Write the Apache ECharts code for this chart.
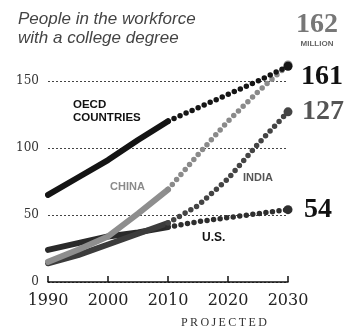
<!DOCTYPE html>
<html>
<head>
<meta charset="utf-8">
<script src="https://cdn.jsdelivr.net/npm/echarts@6/dist/echarts.min.js"></script>
<style>
  html, body { margin: 0; padding: 0; background: #fff; }
  #chart { width: 352px; height: 331px; }
</style>
</head>
<body>
<div id="chart"></div>
<script>
// Millions of workers holding a college degree, actual then projected
const histYears = [1990, 1995, 2000, 2005, 2010];
const projYears = [2010, 2015, 2020, 2025, 2030];

const oecdHist = [65, 78, 91, 106, 120];
const oecdProj = [120, 130, 140, 150, 161];

const chinaHist = [15, 24, 34, 51, 69];
const chinaProj = [69, 95, 120, 142, 162];

const indiaHist = [14, 20, 28, 36, 44];
const indiaProj = [44, 57, 77, 103, 127];

const usHist = [24, 29, 34, 37, 41];
const usProj = [41, 45, 48, 51, 54];

const yTicks = [0, 50, 100, 150];
const xTicks = [1990, 2000, 2010, 2020, 2030];

const pair = (xs, ys) => xs.map((x, i) => [x, ys[i]]);
const lastIdx = projYears.length - 1;

const bigNum = { fontFamily: 'Liberation Serif', fontWeight: 'bold', fontSize: 28 };

function histSeries(ys, color, z) {
  return {
    type: 'line', data: pair(histYears, ys), clip: false, z: z,
    symbol: 'none', silent: true,
    lineStyle: { color: color, width: 6, cap: 'round' }
  };
}

function projSeries(ys, color, z, endLabel) {
  return {
    type: 'line', data: pair(projYears, ys), clip: false, z: z,
    symbol: 'circle', showSymbol: true, showAllSymbol: true,
    symbolSize: (v, p) => (p.dataIndex === lastIdx ? 9 : 0),
    itemStyle: { color: color },
    lineStyle: { color: color, width: 5.5, type: [0, 6.6], cap: 'round' },
    endLabel: endLabel
  };
}

const chart = echarts.init(document.getElementById('chart'), null, { renderer: 'canvas' });

chart.setOption({
  animation: false,
  backgroundColor: '#fff',
  grid: { left: 48, right: 64, top: 81, bottom: 49 },
  xAxis: {
    type: 'value', min: 1990, max: 2030, interval: 10,
    axisLine: { show: true, lineStyle: { color: '#111', width: 1.5 } },
    axisTick: { show: true, inside: true, length: 6, lineStyle: { color: '#111', width: 1.5 } },
    splitLine: { show: false },
    axisLabel: {
      margin: 11, color: '#222', fontFamily: 'DejaVu Serif', fontSize: 16,
      formatter: v => (xTicks.includes(v) ? String(v) : '')
    }
  },
  yAxis: {
    type: 'value', min: 0, max: 150, interval: 50,
    axisLine: { show: false }, axisTick: { show: false },
    splitLine: { show: true, lineStyle: { color: '#444', width: 1, type: [2, 2] } },
    axisLabel: {
      margin: 9, color: '#333', fontFamily: 'DejaVu Serif', fontSize: 12,
      formatter: v => (yTicks.includes(v) ? String(v) : '')
    }
  },
  series: [
    histSeries(usHist, '#2a2a2a', 2),
    histSeries(indiaHist, '#3c3c3c', 2),
    histSeries(chinaHist, '#8e8e8e', 3),
    histSeries(oecdHist, '#141414', 4),
    projSeries(usProj, '#2e2e2e', 2, {
      show: true, offset: [8, 0], color: '#111',
      formatter: p => String(p.value[1]), ...bigNum
    }),
    projSeries(indiaProj, '#444', 2, {
      show: true, offset: [6, 0], color: '#555',
      formatter: p => String(p.value[1]), ...bigNum
    }),
    projSeries(chinaProj, '#8a8a8a', 3, {
      show: true, offset: [0, -34],
      formatter: p => '{n|' + p.value[1] + '}\n{u|MILLION}',
      rich: {
        n: { ...bigNum, color: '#777', align: 'center', lineHeight: 26 },
        u: { fontFamily: 'Liberation Sans', fontWeight: 'bold', fontSize: 8, color: '#666', align: 'center', lineHeight: 12 }
      }
    }),
    projSeries(oecdProj, '#151515', 4, {
      show: true, offset: [5, 11], color: '#111',
      formatter: p => String(p.value[1]), ...bigNum
    })
  ],
  graphic: [
    {
      type: 'text', left: 18, top: 10,
      style: {
        text: 'People in the workforce\nwith a college degree',
        fill: '#444', font: 'italic 17px "Liberation Sans"', lineHeight: 19
      }
    },
    {
      type: 'text', left: 73, top: 98,
      style: { text: 'OECD\nCOUNTRIES', fill: '#111', font: 'bold 11.5px "Liberation Sans"', lineHeight: 13 }
    },
    {
      type: 'text', left: 110, top: 181,
      style: { text: 'CHINA', fill: '#8a8a8a', font: 'bold 11px "Liberation Sans"' }
    },
    {
      type: 'text', left: 243, top: 172,
      style: { text: 'INDIA', fill: '#555', font: 'bold 11px "Liberation Sans"' }
    },
    {
      type: 'text', left: 202, top: 232,
      style: { text: 'U.S.', fill: '#111', font: 'bold 12px "Liberation Sans"' }
    },
    {
      type: 'text', left: 181, top: 317,
      style: { text: 'P\u2009R\u2009O\u2009J\u2009E\u2009C\u2009T\u2009E\u2009D', fill: '#333', font: '12px "Liberation Serif"' }
    }
  ]
});
</script>
</body>
</html>
